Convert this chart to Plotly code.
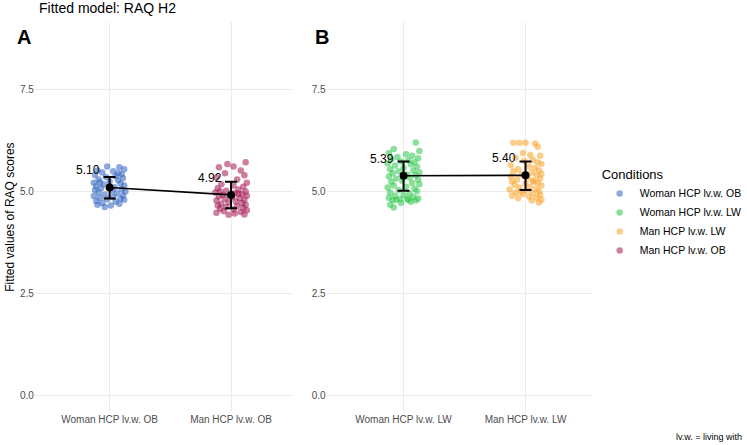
import plotly.graph_objects as go

# Conditions (legend order) and panel labels
conditions = ['Woman HCP lv.w. OB', 'Woman HCP lv.w. LW', 'Man HCP lv.w. LW', 'Man HCP lv.w. OB']
colors = ['#2F62C0', '#2CC64A', '#F7A42A', '#A3154F']

panel_a_cats = ['Woman HCP lv.w. OB', 'Man HCP lv.w. OB']
panel_b_cats = ['Woman HCP lv.w. LW', 'Man HCP lv.w. LW']

# Fitted means and intervals, per panel (A: OB, B: LW)
means_a = [5.10, 4.92]
ci_low_a = [4.83, 4.59]
ci_high_a = [5.36, 5.24]
means_b = [5.39, 5.40]
ci_low_b = [5.02, 5.04]
ci_high_b = [5.74, 5.74]

y_ticks = [0.0, 2.5, 5.0, 7.5]

# Jittered individual fitted values (offset from category, value)
woman_ob_dx = [-0.02, 0.08, 0.12, -0.10, 0.03, -0.06, 0.10, -0.12, 0.05, -0.03, 0.11, -0.09, 0.07, 0.00, -0.13,
               0.09, -0.05, 0.12, -0.11, 0.04, -0.07, 0.10, -0.12, 0.02, 0.13, -0.09, 0.06, -0.04, 0.11, -0.13,
               0.03, -0.08, 0.09, -0.02, 0.12, -0.11, 0.05, -0.06, 0.08, -0.10, 0.01, -0.04, 0.07, -0.08]
woman_ob_y = [5.62, 5.60, 5.55, 5.52, 5.50, 5.47, 5.43, 5.41, 5.38, 5.36, 5.33, 5.30, 5.28, 5.25, 5.22,
              5.20, 5.18, 5.15, 5.13, 5.11, 5.08, 5.06, 5.04, 5.02, 5.00, 4.98, 4.96, 4.93, 4.91, 4.89,
              4.87, 4.85, 4.83, 4.81, 4.80, 4.77, 4.75, 4.72, 4.70, 4.68, 4.66, 4.62, 5.45, 5.23]

man_ob_dx = [0.12, -0.03, -0.10, 0.02, 0.08, -0.05, 0.11, -0.12, 0.05, 0.13, -0.08, 0.02, 0.10, -0.11, 0.06,
             -0.04, 0.12, -0.13, 0.03, 0.09, -0.07, 0.13, -0.10, 0.01, 0.07, -0.05, 0.11, -0.12, 0.04, -0.02,
             0.09, -0.08, 0.12, -0.11, 0.05, -0.04, 0.10, -0.09, 0.02, 0.13, -0.06, 0.08, -0.12, 0.03, 0.11,
             -0.02, 0.06, -0.09]
man_ob_y = [5.72, 5.68, 5.60, 5.62, 5.52, 5.45, 5.40, 5.35, 5.30, 5.22, 5.18, 5.15, 5.12, 5.08, 5.05,
            5.02, 5.00, 4.98, 4.96, 4.94, 4.92, 4.90, 4.88, 4.86, 4.84, 4.82, 4.80, 4.78, 4.76, 4.74,
            4.72, 4.70, 4.68, 4.66, 4.64, 4.62, 4.60, 4.58, 4.56, 4.54, 4.52, 4.50, 4.48, 4.46, 4.44,
            4.43, 4.95, 5.00]

woman_lw_dx = [0.10, -0.08, 0.13, -0.12, 0.02, 0.07, -0.05, 0.12, -0.10, 0.04, -0.02, 0.09, -0.13, 0.06, -0.07,
               0.11, 0.00, -0.11, 0.08, -0.04, 0.13, -0.09, 0.03, 0.10, -0.12, 0.05, -0.06, 0.12, -0.01, -0.10,
               0.07, 0.13, -0.08, 0.02, -0.13, 0.09, -0.04, 0.11, -0.11, 0.05, 0.00, -0.07, 0.08, -0.12, 0.12,
               -0.03, 0.04, -0.09, 0.10, -0.06, 0.06, -0.02, -0.11, -0.08, 0.03]
woman_lw_y = [6.21, 6.05, 6.00, 5.95, 5.92, 5.88, 5.85, 5.82, 5.80, 5.77, 5.74, 5.72, 5.70, 5.67, 5.64,
              5.61, 5.58, 5.55, 5.52, 5.50, 5.47, 5.45, 5.42, 5.40, 5.37, 5.35, 5.32, 5.29, 5.27, 5.24,
              5.21, 5.18, 5.15, 5.12, 5.10, 5.07, 5.04, 5.01, 4.98, 4.95, 4.92, 4.90, 4.87, 4.85, 4.83,
              4.81, 4.80, 4.79, 4.78, 4.80, 4.75, 4.72, 4.68, 4.61, 4.82]

man_lw_dx = [-0.10, -0.05, 0.00, 0.08, 0.10, -0.02, 0.04, 0.12, -0.08, 0.06, -0.01, 0.10, 0.13, -0.12, 0.03,
             0.08, -0.06, 0.11, -0.10, 0.05, 0.13, -0.03, 0.09, -0.12, 0.02, 0.12, -0.07, 0.06, -0.11, 0.10,
             0.00, -0.09, 0.13, 0.04, -0.05, 0.09, -0.13, 0.01, 0.11, -0.08, 0.06, -0.02, 0.12, -0.11, 0.03,
             0.09, -0.06, 0.13, 0.05, 0.11, -0.04, 0.07]
man_lw_y = [6.20, 6.20, 6.20, 6.18, 6.10, 5.95, 5.90, 5.88, 5.83, 5.78, 5.76, 5.72, 5.68, 5.65, 5.62,
            5.58, 5.55, 5.52, 5.50, 5.47, 5.44, 5.42, 5.40, 5.37, 5.35, 5.32, 5.30, 5.27, 5.25, 5.22,
            5.20, 5.17, 5.15, 5.12, 5.10, 5.07, 5.05, 5.03, 5.00, 4.98, 4.96, 4.94, 4.92, 4.90, 4.88,
            4.85, 4.84, 4.80, 4.78, 4.73, 5.00, 5.25]

fig = go.Figure()

# jittered points, legend order as in reference
groups = [
    (conditions[0], woman_ob_dx, woman_ob_y, 0, 'x', 'y'),
    (conditions[1], woman_lw_dx, woman_lw_y, 0, 'x2', 'y2'),
    (conditions[2], man_lw_dx, man_lw_y, 1, 'x2', 'y2'),
    (conditions[3], man_ob_dx, man_ob_y, 1, 'x', 'y'),
]
for (name, dx, yv, pos, xa, ya), col in zip(groups, colors):
    fig.add_trace(go.Scatter(
        x=[pos + d for d in dx], y=yv, mode='markers', name=name,
        marker=dict(color=col, size=6.5, opacity=0.55, line=dict(width=0)),
        xaxis=xa, yaxis=ya, hoverinfo='y',
    ))

# mean lines + error bars
for means, lo, hi, xa, ya in [(means_a, ci_low_a, ci_high_a, 'x', 'y'), (means_b, ci_low_b, ci_high_b, 'x2', 'y2')]:
    fig.add_trace(go.Scatter(
        x=[0, 1], y=means, mode='lines+markers', showlegend=False,
        line=dict(color='black', width=1.6),
        marker=dict(color='black', size=8),
        error_y=dict(type='data', symmetric=False,
                     array=[h - m for h, m in zip(hi, means)],
                     arrayminus=[m - l for m, l in zip(means, lo)],
                     color='black', thickness=2, width=6),
        xaxis=xa, yaxis=ya,
    ))
    for i, m in enumerate(means):
        fig.add_annotation(x=i - 0.06, y=m + 0.42, text=f'{m:.2f}', showarrow=False,
                           xanchor='right', yanchor='middle', xref=xa, yref=ya,
                           font=dict(size=12, color='black'))

axis_common = dict(showgrid=True, gridcolor='#EBEBEB', gridwidth=1, zeroline=False, showline=False,
                   ticks='', tickfont=dict(size=10, color='#4D4D4D'))

fig.update_layout(
    width=747, height=445,
    margin=dict(l=0, r=0, t=0, b=0),
    paper_bgcolor='white', plot_bgcolor='white',
    font=dict(family='Liberation Sans, Arial, sans-serif', color='black'),
    xaxis=dict(domain=[0.0469, 0.3922], range=[-0.615, 1.5], tickvals=[0, 1], ticktext=panel_a_cats,
               anchor='y', **axis_common),
    yaxis=dict(domain=[0.0748, 0.9506], range=[-0.41, 9.17], tickvals=y_ticks,
               ticktext=[f'{v:.1f}' for v in y_ticks], anchor='x', **axis_common),
    xaxis2=dict(domain=[0.4391, 0.7965], range=[-0.63, 1.55], tickvals=[0, 1], ticktext=panel_b_cats,
                anchor='y2', **axis_common),
    yaxis2=dict(domain=[0.0748, 0.9506], range=[-0.41, 9.17], tickvals=y_ticks,
                ticktext=[f'{v:.1f}' for v in y_ticks], anchor='x2', **axis_common),
    legend=dict(x=0.806, y=0.636, xanchor='left', yanchor='top',
                title=dict(text='Conditions', font=dict(size=13)),
                font=dict(size=10.5), itemsizing='trace', tracegroupgap=0, itemwidth=30),
    showlegend=True,
)

# titles, tags, notes
fig.add_annotation(text='Fitted model: RAQ H2', x=37 / 747, y=1.0 + 2 / 445, xref='paper', yref='paper',
                   xanchor='left', yanchor='top', showarrow=False, font=dict(size=14))
fig.add_annotation(text='<b>A</b>', x=15 / 747, y=1 - 24 / 445, xref='paper', yref='paper',
                   xanchor='left', yanchor='top', showarrow=False, font=dict(size=20))
fig.add_annotation(text='<b>B</b>', x=314 / 747, y=1 - 24 / 445, xref='paper', yref='paper',
                   xanchor='left', yanchor='top', showarrow=False, font=dict(size=20))
fig.add_annotation(text='Fitted values of RAQ scores', x=10 / 747, y=(0.0748 + 0.9506) / 2,
                   xref='paper', yref='paper', textangle=-90, showarrow=False,
                   xanchor='center', yanchor='middle', font=dict(size=12))
fig.add_annotation(text='lv.w. = living with', x=1.0, y=1 - 437 / 445, xref='paper', yref='paper',
                   xanchor='right', yanchor='middle', showarrow=False, font=dict(size=9))

fig.write_html('out.html', config={'displayModeBar': False},
               post_script="document.body.style.margin='0px';")
